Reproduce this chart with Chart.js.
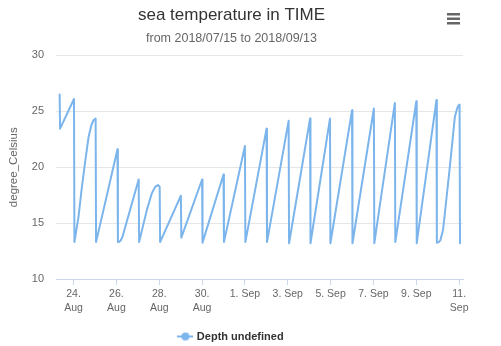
<!DOCTYPE html>
<html><head><meta charset="utf-8">
<script src="https://cdn.jsdelivr.net/npm/chart.js@4/dist/chart.umd.min.js"></script>
<style>html,body{margin:0;padding:0;background:#fff}#wrap{width:501px;height:346px;position:relative}</style>
</head><body><div id="wrap"><canvas id="c" width="501" height="346"></canvas></div>
<script>
const titleText = "sea temperature in TIME";
const subtitleText = "from 2018/07/15 to 2018/09/13";
const yAxisTitle = "degree_Celsius";
const seriesName = "Depth undefined";
// x values: day number counted from 1 Aug 2018 (32 = 1 Sep)
const dayOfAugust = [23.35,23.37,24.02,24.04,24.23,24.39,24.55,24.70,24.83,24.93,25.03,25.05,26.05,26.07,26.12,26.2,26.28,27.04,27.06,27.42,27.65,27.81,27.94,28.02,28.04,29.01,29.03,30.0,30.02,31.0,31.02,32.0,32.02,33.01,33.03,34.04,34.06,35.04,35.06,35.97,35.99,37.0,37.02,38.02,38.04,39.0,39.02,40.0,40.02,40.94,40.96,41.05,41.12,41.25,41.58,41.8,41.9,41.96,42.02,42.04];
const temperature = [26.5,23.45,26.1,13.3,15.56,18.24,20.6,22.7,23.75,24.2,24.35,13.3,21.6,13.3,13.3,13.45,13.75,18.9,13.3,16.16,17.65,18.24,18.4,18.25,13.3,17.45,13.7,18.9,13.25,19.35,13.3,21.9,13.3,23.45,13.3,24.15,13.2,24.35,13.2,24.35,13.2,25.1,13.2,25.25,13.2,25.75,13.3,25.9,13.2,26.0,13.25,13.3,13.45,14.4,20.3,24.5,25.2,25.5,25.6,13.2];
const xTickDays = [24,26,28,30,32,34,36,38,40,42];
const xTickLabels = [["24.","Aug"],["26.","Aug"],["28.","Aug"],["30.","Aug"],"1. Sep","3. Sep","5. Sep","7. Sep","9. Sep",["11.","Sep"]];
const yMin = 10, yMax = 30, yStep = 5;

Chart.defaults.font.family = '"Liberation Sans", Arial, sans-serif';
Chart.defaults.color = '#666666';

const lineColor = '#7cb5ec';
const legendSymbol = (() => {
  const c = document.createElement('canvas'); c.width = 16; c.height = 10;
  const g = c.getContext('2d');
  g.strokeStyle = lineColor; g.lineWidth = 2;
  g.beginPath(); g.moveTo(0, 5); g.lineTo(16, 5); g.stroke();
  g.fillStyle = lineColor; g.beginPath(); g.arc(8, 5, 4, 0, Math.PI * 2); g.fill();
  return c;
})();

const menuIcon = {
  id: 'menuIcon',
  afterDraw(chart) {
    const g = chart.ctx;
    g.save(); g.fillStyle = '#666666';
    [13, 17.5, 22].forEach(y => g.fillRect(447, y, 13, 2.5));
    g.restore();
  }
};

new Chart(document.getElementById('c'), {
  type: 'line',
  data: {
    datasets: [{
      label: seriesName,
      data: dayOfAugust.map((d, i) => ({ x: d, y: temperature[i] })),
      borderColor: lineColor,
      backgroundColor: lineColor,
      borderWidth: 2,
      pointRadius: 0,
      tension: 0,
      borderJoinStyle: 'round',
      borderCapStyle: 'round',
      pointStyle: legendSymbol
    }]
  },
  options: {
    responsive: false,
    animation: false,
    events: [],
    layout: { padding: { left: 0, right: 38, top: 0, bottom: -6 } },
    plugins: {
      title: { display: true, text: titleText, color: '#333333', font: { size: 17, weight: 'normal' }, padding: { top: 5, bottom: 0 } },
      subtitle: { display: true, text: subtitleText, color: '#666666', font: { size: 12.5 }, padding: { top: 6, bottom: 9 } },
      legend: {
        position: 'bottom',
        labels: { usePointStyle: true, pointStyleWidth: 12, color: '#333333', font: { size: 11, weight: 'bold' }, padding: 10 }
      },
      tooltip: { enabled: false }
    },
    scales: {
      x: {
        type: 'linear',
        min: 23.18, max: 42.18,
        afterBuildTicks: s => { s.ticks = xTickDays.map(v => ({ value: v })); },
        afterFit: s => { s.height = 42; },
        ticks: {
          callback: v => xTickLabels[xTickDays.indexOf(v)],
          autoSkip: false, maxRotation: 0, minRotation: 0,
          color: '#666666', font: { size: 10.5, lineHeight: 1.25 }, padding: 3
        },
        grid: { drawOnChartArea: false, drawTicks: true, tickLength: 6, color: '#ccd6eb' },
        border: { display: true, color: '#ccd6eb', width: 1 }
      },
      y: {
        min: yMin, max: yMax,
        afterFit: s => { s.width = 56; },
        ticks: { stepSize: yStep, color: '#666666', font: { size: 11 }, padding: 12 },
        grid: { color: '#e6e6e6', drawTicks: false },
        border: { display: false },
        title: { display: true, text: yAxisTitle, color: '#666666', font: { size: 11.5 }, padding: { top: 7, bottom: 0 } }
      }
    }
  },
  plugins: [menuIcon]
});
</script></body></html>
